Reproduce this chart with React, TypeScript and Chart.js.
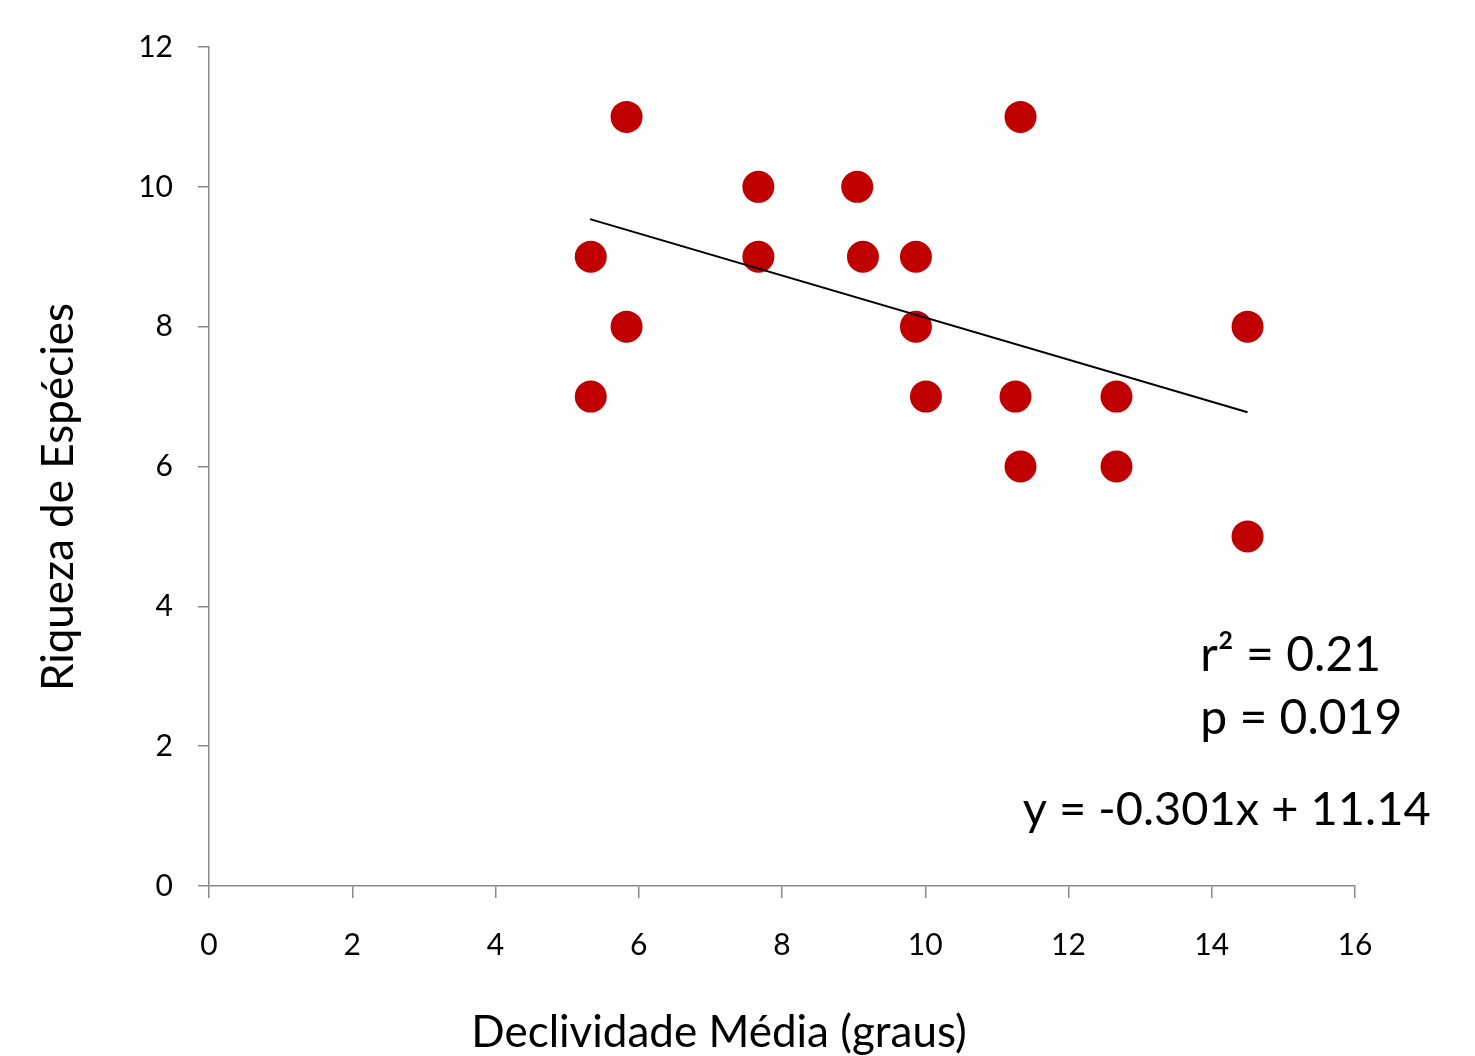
import React, { useEffect, useRef } from "react";
import { Chart, registerables } from "chart.js";

Chart.register(...registerables);

// Data
const declividade = [5.33, 5.33, 5.83, 5.83, 7.67, 7.67, 9.05, 9.13, 9.87, 9.87, 10.01, 11.26, 11.33, 11.33, 12.67, 12.67, 14.5, 14.5];
const riqueza = [9, 7, 11, 8, 10, 9, 10, 9, 9, 8, 7, 7, 11, 6, 7, 6, 8, 5];

// Linear trend line (from the equation printed on the chart)
const trendX = [5.32, 14.5];
const trendSlope = -0.301;
const trendIntercept = 11.14;

const xTickValues = [0, 2, 4, 6, 8, 10, 12, 14, 16];
const yTickValues = [0, 2, 4, 6, 8, 10, 12];

const xTitle = "Declividade Média (graus)";
const yTitle = "Riqueza de Espécies";
const statsLines = ["r² = 0.21", "p = 0.019", "y = -0.301x + 11.14"];

const FONT = "Lato, 'Open Sans', sans-serif";

export default function App() {
  const canvasRef = useRef<HTMLCanvasElement | null>(null);

  useEffect(() => {
    const canvas = canvasRef.current;
    if (!canvas) return;

    const scatterData = declividade.map((x, i) => ({ x, y: riqueza[i] }));
    const trendData = trendX.map((x) => ({ x, y: trendSlope * x + trendIntercept }));

    const textPlugin = {
      id: "customTexts",
      afterDraw(chart: any) {
        const ctx = chart.ctx as CanvasRenderingContext2D;
        const xs = chart.scales.x;
        const ys = chart.scales.y;
        ctx.save();
        ctx.fillStyle = "#000000";
        ctx.textBaseline = "alphabetic";

        // x axis title
        ctx.font = `44px ${FONT}`;
        ctx.textAlign = "center";
        ctx.fillText(xTitle, 719, 1047);

        // y axis title
        ctx.save();
        ctx.translate(73, 497);
        ctx.rotate(-Math.PI / 2);
        ctx.fillText(yTitle, 0, 0);
        ctx.restore();

        // stats annotations
        ctx.font = `48px ${FONT}`;
        ctx.textAlign = "left";
        ctx.fillText(statsLines[0], xs.getPixelForValue(13.84), ys.getPixelForValue(3.08));
        ctx.fillText(statsLines[1], xs.getPixelForValue(13.84), ys.getPixelForValue(2.18));
        ctx.font = `47px ${FONT}`;
        ctx.fillText(statsLines[2], xs.getPixelForValue(11.36), ys.getPixelForValue(0.87));
        ctx.restore();
      },
    };

    const chart = new Chart(canvas, {
      type: "scatter",
      data: {
        datasets: [
          {
            type: "line",
            label: "Tendência",
            data: trendData,
            borderColor: "#000000",
            borderWidth: 2,
            pointRadius: 0,
            fill: false,
          } as any,
          {
            label: "Riqueza",
            data: scatterData,
            backgroundColor: "#C00000",
            borderWidth: 0,
            pointRadius: 16,
            pointHoverRadius: 16,
          },
        ],
      },
      options: {
        animation: false,
        responsive: false,
        devicePixelRatio: 1,
        layout: { padding: { top: 47, right: 120, left: 0, bottom: 0 } },
        plugins: {
          legend: { display: false },
          tooltip: { enabled: false },
        },
        scales: {
          x: {
            type: "linear",
            min: 0,
            max: 16,
            afterBuildTicks: (scale: any) => {
              scale.ticks = xTickValues.map((v) => ({ value: v }));
            },
            afterFit: (scale: any) => {
              scale.height = 170;
            },
            grid: {
              drawOnChartArea: false,
              drawTicks: true,
              tickLength: 12,
              color: "#898989",
              lineWidth: 1.5,
            },
            border: { color: "#898989", width: 1.5 },
            ticks: {
              color: "#000000",
              font: { family: FONT, size: 30 },
              padding: 29,
              maxRotation: 0,
            },
          },
          y: {
            type: "linear",
            min: 0,
            max: 12,
            afterBuildTicks: (scale: any) => {
              scale.ticks = yTickValues.map((v) => ({ value: v }));
            },
            afterFit: (scale: any) => {
              scale.width = 209;
            },
            grid: {
              drawOnChartArea: false,
              drawTicks: true,
              tickLength: 11,
              color: "#898989",
              lineWidth: 1.5,
            },
            border: { color: "#898989", width: 1.5 },
            ticks: {
              color: "#000000",
              font: { family: FONT, size: 30 },
              padding: 25,
            },
          },
        },
      },
      plugins: [textPlugin],
    });

    return () => {
      chart.destroy();
    };
  }, []);

  return (
    <div style={{ position: "absolute", left: 0, top: 0, width: 1475, height: 1056, background: "#ffffff" }}>
      <canvas ref={canvasRef} width={1475} height={1056} />
    </div>
  );
}
